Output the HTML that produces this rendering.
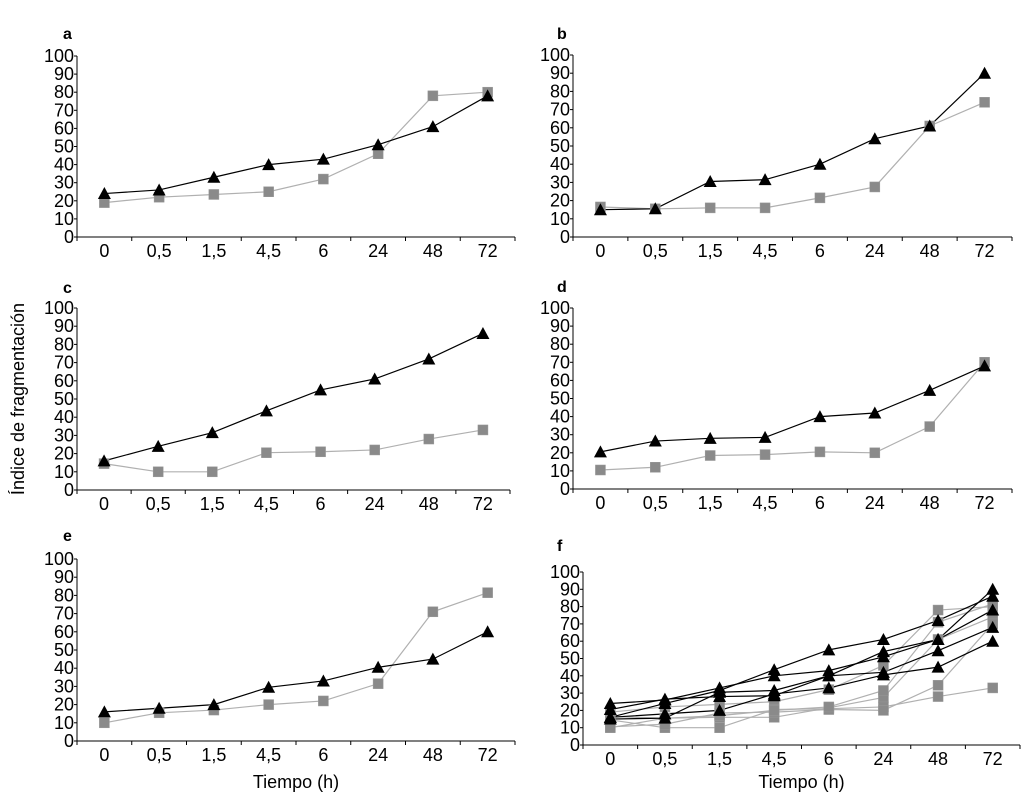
<!DOCTYPE html>
<html><head><meta charset="utf-8">
<style>
html,body{margin:0;padding:0;background:#fff;}
svg{display:block;font-family:"Liberation Sans",Arial,sans-serif;}
</style></head>
<body>
<svg id="chart" width="1029" height="800" viewBox="0 0 1029 800" xmlns="http://www.w3.org/2000/svg">
<text x="0" y="0" transform="translate(24,399) rotate(-90)" text-anchor="middle" font-size="18" fill="#000">Índice de fragmentación</text>
</svg>
<script>
const categories = ["0","0,5","1,5","4,5","6","24","48","72"];
const yTicks = [0,10,20,30,40,50,60,70,80,90,100];
const aTri = [24,26,33,40,43,51,61,78];
const aSq  = [19,22,23.5,25,32,46,78,80];
const bTri = [15,15.5,30.5,31.5,40,54,61,90];
const bSq  = [16.5,15.5,16,16,21.5,27.5,61,74];
const cTri = [16,24,31.5,43.5,55,61,72,86];
const cSq  = [14.5,10,10,20.5,21,22,28,33];
const dTri = [20.5,26.5,28,28.5,40,42,54.5,68];
const dSq  = [10.5,12,18.5,19,20.5,20,34.5,70];
const eTri = [16,18,20,29.5,33,40.5,45,60];
const eSq  = [10,15.5,17,20,22,31.5,71,81.5];

const NS = "http://www.w3.org/2000/svg";
const svg = document.getElementById("chart");
function mk(tag, attrs, parent){
  const el = document.createElementNS(NS, tag);
  for (const k in attrs) el.setAttribute(k, attrs[k]);
  (parent||svg).appendChild(el);
  return el;
}
const panels = [
  {id:"a", x0:77,  x1:515,  y0:237, y100:56,  lx:63,  ly:39,  tri:[aTri], sq:[aSq], xt:false},
  {id:"b", x0:573, x1:1012, y0:237, y100:55,  lx:557, ly:39,  tri:[bTri], sq:[bSq], xt:false},
  {id:"c", x0:77,  x1:510,  y0:490, y100:308, lx:63,  ly:293, tri:[cTri], sq:[cSq], xt:false},
  {id:"d", x0:573, x1:1012, y0:489, y100:308, lx:557, ly:292, tri:[dTri], sq:[dSq], xt:false},
  {id:"e", x0:77,  x1:515,  y0:741, y100:559, lx:63,  ly:541, tri:[eTri], sq:[eSq], xt:true},
  {id:"f", x0:583, x1:1020, y0:745, y100:572, lx:557, ly:551, tri:[aTri,bTri,cTri,dTri,eTri], sq:[aSq,bSq,cSq,dSq,eSq], xt:true}
];
panels.forEach(p=>{
  const g = mk("g",{});
  
  
  const n = categories.length;
  const step = (p.x1-p.x0)/n;
  const xs = i => p.x0 + step*(i+0.5);
  const ys = v => p.y0 - (p.y0-p.y100)*v/100;
  const lbl = mk("text",{x:p.lx,y:p.ly,"font-size":16,"font-weight":"bold",fill:"#000"},g);
  lbl.textContent = p.id;
  
  
  const ya = mk("line",{x1:p.x0,y1:p.y0,x2:p.x0,y2:p.y100,stroke:"#000","stroke-width":1},g);
  
  
  const xa = mk("line",{x1:p.x0,y1:p.y0,x2:p.x1,y2:p.y0,stroke:"#000","stroke-width":1},g);
  
  
  yTicks.forEach(t=>{
    const y = ys(t);
    mk("line",{x1:p.x0-3,y1:y,x2:p.x0,y2:y,stroke:"#000"},g);
    const tx = mk("text",{x:p.x0-3,y:y+6,"font-size":18,"text-anchor":"end",fill:"#000"},g);
    tx.textContent = t;
    
    
  });
  for (let i=0;i<=n;i++){
    const x = p.x0+step*i;
    mk("line",{x1:x,y1:p.y0,x2:x,y2:p.y0+4,stroke:"#000"},g);
  }
  categories.forEach((c,i)=>{
    const tx = mk("text",{x:xs(i),y:p.y0+20,"font-size":18,"text-anchor":"middle",fill:"#000"},g);
    tx.textContent = c;
    
    
  });
  if (p.xt){
    const tt = mk("text",{x:(p.x0+p.x1)/2,y:788,"font-size":18,"text-anchor":"middle",fill:"#000"},g);
    tt.textContent = "Tiempo (h)";
    
    
  }
  p.sq.forEach(arr=>{
    const pl = mk("polyline",{points:arr.map((v,i)=>xs(i)+","+ys(v)).join(" "),fill:"none",stroke:"#b0b0b0","stroke-width":1.2},g);
    
    
  });
  p.tri.forEach(arr=>{
    const pl = mk("polyline",{points:arr.map((v,i)=>xs(i)+","+ys(v)).join(" "),fill:"none",stroke:"#000","stroke-width":1.2},g);
    
    
  });
  p.sq.forEach(arr=>{
    arr.forEach((v,i)=>{
      const r = mk("rect",{x:xs(i)-5,y:ys(v)-5,width:10,height:10,fill:"#8a8a8a",stroke:"#999","stroke-width":0.5},g);
      
      
    });
  });
  p.tri.forEach(arr=>{
    arr.forEach((v,i)=>{
      const x = xs(i), y = ys(v);
      const t = mk("polygon",{points:(x-6.5)+","+(y+5.5)+" "+(x+6.5)+","+(y+5.5)+" "+x+","+(y-6.5),fill:"#000"},g);
      
      
    });
  });
});
</script>
</body></html>
